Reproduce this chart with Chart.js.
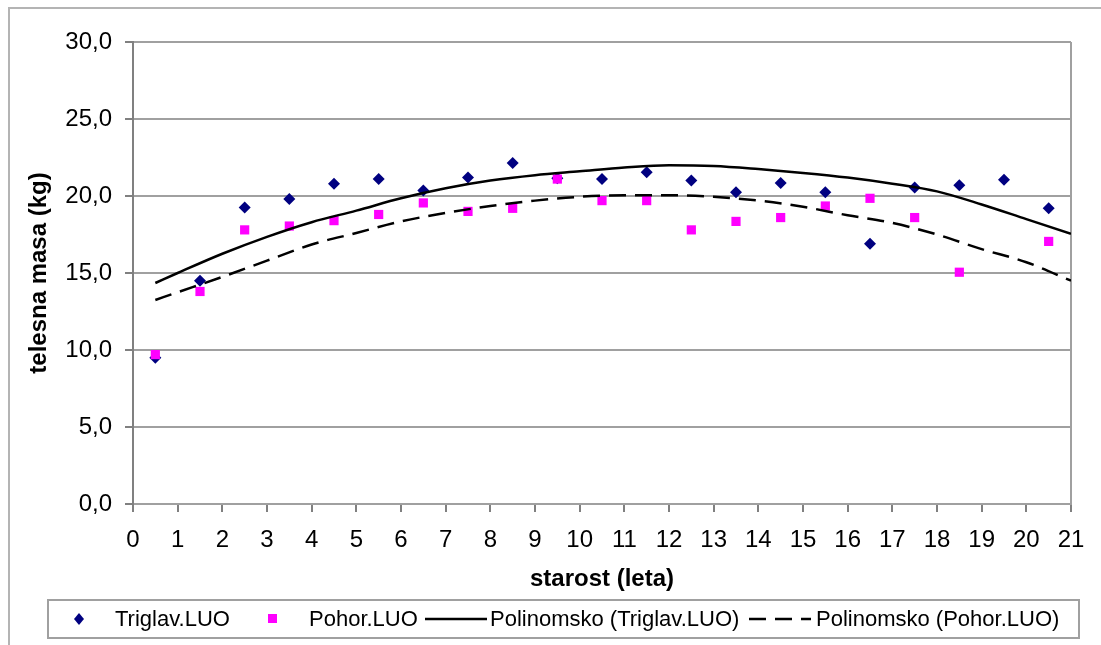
<!DOCTYPE html>
<html>
<head>
<meta charset="utf-8">
<script src="https://cdn.jsdelivr.net/npm/chart.js@4.4.0/dist/chart.umd.min.js"></script>
<style>
  body { margin: 0; background: #fff; width: 1101px; height: 645px; overflow: hidden; position: relative; font-family: "Liberation Sans", Arial, sans-serif; }
  #frame { position: absolute; left: 8px; top: 7px; width: 1200px; height: 700px; border-left: 2px solid #b4b4b4; border-top: 2px solid #b4b4b4; }
  #wrap { position: absolute; left: 0; top: 0; width: 1101px; height: 600px; }
  #legend { position: absolute; left: 47px; top: 599px; width: 1029px; height: 36px; border: 2px solid #a0a0a0; }
  #legend span { position: absolute; top: 0; line-height: 36px; font-size: 22px; color: #000; white-space: nowrap; }
  #legend svg { position: absolute; top: 0; }
</style>
</head>
<body>
<div id="frame"></div>
<div id="wrap"><canvas id="chart" width="1101" height="600"></canvas></div>
<div id="legend">
  <svg style="left:22px" width="16" height="36"><polygon points="8,12 13,18 8,24 3,18" fill="#000080"/></svg>
  <span style="left:66px">Triglav.LUO</span>
  <svg style="left:216px" width="16" height="36"><rect x="3" y="13" width="9" height="9" fill="#ff00ff"/></svg>
  <span style="left:260px">Pohor.LUO</span>
  <svg style="left:375px" width="64" height="36"><line x1="1" y1="18" x2="63" y2="18" stroke="#000" stroke-width="2.5"/></svg>
  <span style="left:441px">Polinomsko (Triglav.LUO)</span>
  <svg style="left:699px" width="64" height="36"><line x1="1" y1="18" x2="63" y2="18" stroke="#000" stroke-width="2.5" stroke-dasharray="17,9"/></svg>
  <span style="left:767px">Polinomsko (Pohor.LUO)</span>
</div>
<script>
const ages = [0.5, 1.5, 2.5, 3.5, 4.5, 5.5, 6.5, 7.5, 8.5, 9.5, 10.5, 11.5, 12.5, 13.5, 14.5, 15.5, 16.5, 17.5, 18.5, 19.5, 20.5];
const triglav = [9.5, 14.5, 19.25, 19.8, 20.8, 21.1, 20.35, 21.2, 22.15, 21.15, 21.1, 21.55, 21.0, 20.25, 20.85, 20.25, 16.9, 20.55, 20.7, 21.05, 19.2];
const pohor = [9.7, 13.8, 17.8, 18.05, 18.4, 18.8, 19.55, 19.0, 19.2, 21.1, 19.7, 19.7, 17.8, 18.35, 18.6, 19.35, 19.85, 18.6, 15.05, null, 17.05];

// trend curves
const fitX = [0.5, 1, 2, 3, 4, 5, 6, 7, 8, 9, 10, 11, 12, 13, 14, 15, 16, 17, 18, 19, 20, 21];
const fitTriglav = [14.35, 15.0, 16.25, 17.35, 18.3, 19.05, 19.85, 20.5, 21.0, 21.35, 21.6, 21.85, 22.0, 21.95, 21.75, 21.5, 21.2, 20.8, 20.3, 19.45, 18.5, 17.55];
const fitPohor = [13.25, 13.75, 14.75, 15.8, 16.85, 17.6, 18.35, 18.9, 19.35, 19.7, 19.95, 20.05, 20.05, 19.95, 19.7, 19.3, 18.75, 18.25, 17.5, 16.55, 15.7, 14.5];

const labels = ['Triglav.LUO', 'Pohor.LUO', 'Polinomsko (Triglav.LUO)', 'Polinomsko (Pohor.LUO)'];
const fam = '"Liberation Sans", Arial, sans-serif';

const pts = (xs, ys) => xs.map((x, i) => ({ x: x, y: ys[i] })).filter(p => p.y !== null);

new Chart(document.getElementById('chart'), {
  type: 'scatter',
  data: {
    datasets: [
      {
        label: labels[0],
        data: pts(ages, triglav),
        pointStyle: 'rectRot',
        pointRadius: 6,
        backgroundColor: '#000080',
        borderColor: '#000080',
        borderWidth: 0,
        order: 3,
      },
      {
        label: labels[1],
        data: pts(ages, pohor),
        pointStyle: 'rect',
        pointRadius: 6.5,
        backgroundColor: '#ff00ff',
        borderColor: '#ff00ff',
        borderWidth: 0,
        order: 2,
      },
      {
        label: labels[2],
        data: pts(fitX, fitTriglav),
        showLine: true,
        pointRadius: 0,
        borderColor: '#000',
        borderWidth: 2.5,
        cubicInterpolationMode: 'monotone',
        order: 0,
      },
      {
        label: labels[3],
        data: pts(fitX, fitPohor),
        showLine: true,
        pointRadius: 0,
        borderColor: '#000',
        borderWidth: 2.5,
        borderDash: [17, 9],
        cubicInterpolationMode: 'monotone',
        order: 1,
      },
    ],
  },
  options: {
    responsive: false,
    animation: false,
    layout: { padding: { top: 42, right: 30, left: 0, bottom: 0 } },
    plugins: { legend: { display: false }, tooltip: { enabled: false } },
    scales: {
      x: {
        type: 'linear',
        min: 0,
        max: 21,
        ticks: { stepSize: 1, autoSkip: false, maxRotation: 0, padding: 14, color: '#000', font: { family: fam, size: 24 } },
        grid: {
          color: (c) => (c.tick && c.tick.value === 21 ? '#a0a0a0' : 'rgba(0,0,0,0)'),
          lineWidth: 2,
          tickColor: '#808080',
          tickLength: 8,
          tickWidth: 2,
        },
        border: { color: '#a0a0a0', width: 2 },
        title: { display: true, text: 'starost (leta)', color: '#000', font: { family: fam, size: 24, weight: 'bold' }, padding: { top: 0, bottom: 6 } },
        afterFit: (s) => { s.height = 96; },
      },
      y: {
        min: 0,
        max: 30,
        ticks: { stepSize: 5, padding: 13, color: '#000', font: { family: fam, size: 24 }, callback: (v) => v.toFixed(1).replace('.', ',') },
        grid: { color: '#a0a0a0', lineWidth: 2, tickColor: '#808080', tickLength: 8, tickWidth: 2 },
        border: { color: '#808080', width: 2 },
        title: { display: true, text: 'telesna masa (kg)', color: '#000', font: { family: fam, size: 24, weight: 'bold' }, padding: { top: 25, bottom: 0 } },
        afterFit: (s) => { s.width = 133; },
      },
    },
  },
});
</script>
</body>
</html>
